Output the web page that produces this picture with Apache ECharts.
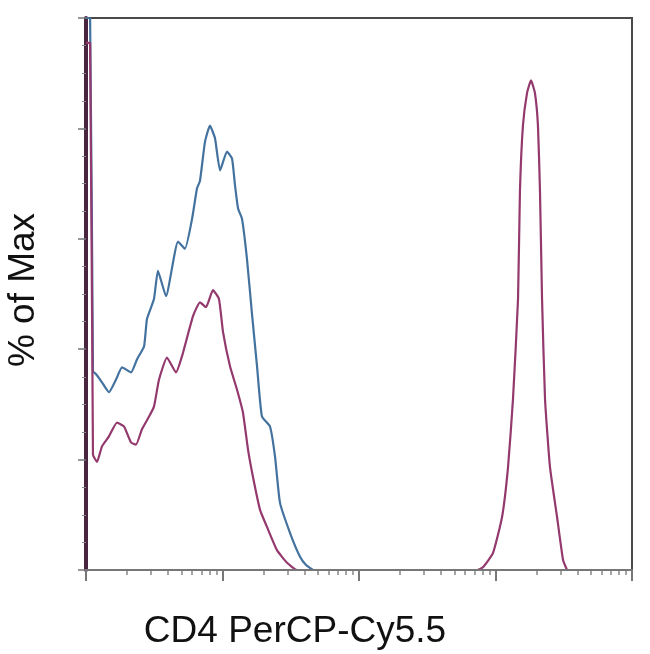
<!DOCTYPE html>
<html>
<head>
<meta charset="utf-8">
<script src="https://cdn.jsdelivr.net/npm/echarts@6/dist/echarts.min.js"></script>
<style>
  html, body { margin: 0; padding: 0; background: #fff; }
  #chart { width: 650px; height: 654px; }
</style>
</head>
<body>
<div id="chart"></div>
<script>
// x positions are in log decades of fluorescence, y in % of max
const blueX = [0, 0.03, 0.051, 0.073, 0.117, 0.168, 0.22, 0.264, 0.33, 0.374, 0.425, 0.447, 0.498, 0.527, 0.586,
  0.674, 0.725, 0.777, 0.813, 0.835, 0.872, 0.908, 0.945, 0.982, 1.033, 1.07, 1.092, 1.114, 1.143, 1.179,
  1.216, 1.253, 1.289, 1.348, 1.385, 1.421, 1.495, 1.568, 1.612, 1.663]
const blueY = [100, 100, 36, 35.5, 34, 32.2, 34.5, 36.7, 35.8, 38.2, 40.5, 45.5, 49.1, 54.2, 49.6,
  59.5, 58.2, 63.6, 69.1, 70.5, 77.6, 80.5, 78.2, 72.4, 75.8, 74.5, 69.6, 65.5, 63.6, 56.4,
  46.4, 36.9, 27.8, 26, 20.5, 12.2, 6.7, 2.4, 0.9, 0]

const purpleX = [0, 0.03, 0.051, 0.081, 0.117, 0.168, 0.227, 0.278, 0.33, 0.366, 0.41, 0.462, 0.498, 0.535,
  0.593, 0.659, 0.703, 0.784, 0.835, 0.879, 0.93, 0.974, 1.004, 1.055, 1.106, 1.15, 1.187, 1.223, 1.275,
  1.326, 1.399, 1.473, 1.546, 2.864, 2.908, 2.982, 3.048, 3.092, 3.128, 3.165, 3.179, 3.201, 3.231, 3.26,
  3.289, 3.311, 3.326, 3.341, 3.363, 3.399, 3.451, 3.495, 3.524]
const purpleY = [95.5, 95.5, 20.9, 19.6, 22.4, 24.2, 26.7, 26, 23.1, 22.7, 25.5, 27.8, 29.6, 34.5,
  38.5, 35.8, 38.7, 46, 48.5, 47.6, 50.7, 49.1, 43.1, 36.9, 32.7, 28.5, 21.8, 16.9, 10.9,
  7.8, 3.6, 1.3, 0, 0, 0.5, 3.1, 9.6, 18.7, 30.9, 49.1, 68.5, 80.5, 86.4, 88.7,
  86.4, 80.5, 68.5, 49.1, 30.9, 18.7, 9.6, 1.8, 0]

const decades = [0, 1, 2, 3, 4]
const minorSteps = [2, 3, 4, 5, 6, 7, 8, 9]

const xTitle = 'CD4 PerCP-Cy5.5'
const yTitle = '% of Max'

const minorX = []
decades.slice(0, -1).forEach(d => {
  minorSteps.forEach(k => minorX.push(d + Math.log10(k)))
})

const zip = (xs, ys) => xs.map((x, i) => [x, ys[i]])

const chart = echarts.init(document.getElementById('chart'))

chart.setOption({
  animation: false,
  grid: {
    left: 86,
    right: 18,
    top: 18,
    bottom: 84,
    show: true,
    borderColor: '#4a4a4a',
    borderWidth: 2
  },
  xAxis: [
    {
      type: 'value',
      min: 0,
      max: 4,
      interval: 1,
      z: 5,
      axisLine: { lineStyle: { color: '#777', width: 2 } },
      axisTick: { length: 11, lineStyle: { color: '#777', width: 2 } },
      axisLabel: { show: false },
      splitLine: { show: false }
    },
    {
      type: 'value',
      min: 0,
      max: 4,
      position: 'bottom',
      axisLine: { show: false },
      axisTick: { length: 5, customValues: minorX, lineStyle: { color: '#888', width: 1.5 } },
      axisLabel: { show: false, customValues: minorX },
      splitLine: { show: false }
    }
  ],
  yAxis: {
    type: 'value',
    min: 0,
    max: 100,
    interval: 20,
    axisLine: { lineStyle: { color: '#4a2540', width: 4 } },
    axisTick: { length: 8, lineStyle: { color: '#777', width: 1.5 } },
    minorTick: { show: true, splitNumber: 4, length: 4, lineStyle: { color: '#888', width: 1 } },
    axisLabel: { show: false },
    splitLine: { show: false }
  },
  graphic: [
    {
      type: 'text',
      rotation: Math.PI / 2,
      x: 24,
      y: 290,
      style: {
        text: yTitle,
        fill: '#111',
        font: '37px "Liberation Sans", Arial, sans-serif',
        textAlign: 'center',
        textVerticalAlign: 'middle'
      }
    },
    {
      type: 'text',
      x: 295,
      y: 632,
      style: {
        text: xTitle,
        fill: '#111',
        font: '37px "Liberation Sans", Arial, sans-serif',
        textAlign: 'center',
        textVerticalAlign: 'middle'
      }
    }
  ],
  series: [
    {
      name: 'Isotype',
      type: 'line',
      data: zip(blueX, blueY),
      symbol: 'none',
      smooth: 0.15,
      lineStyle: { color: '#44729f', width: 2.2 }
    },
    {
      name: 'CD4',
      type: 'line',
      data: zip(purpleX, purpleY),
      symbol: 'none',
      smooth: 0.15,
      lineStyle: { color: '#93396d', width: 2.2 }
    }
  ]
})
</script>
</body>
</html>
